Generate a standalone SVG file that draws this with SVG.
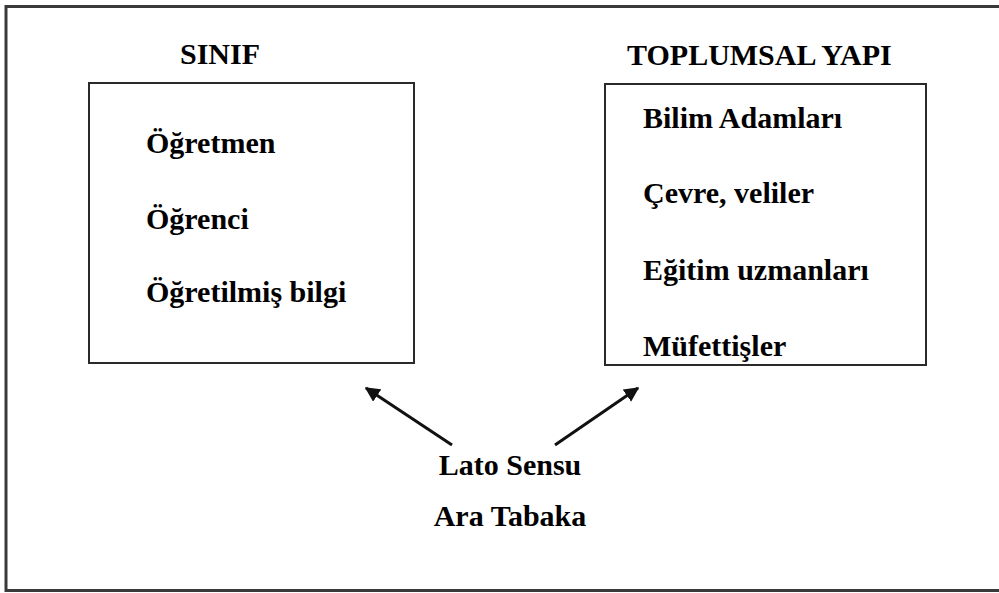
<svg xmlns="http://www.w3.org/2000/svg" width="999" height="593" viewBox="0 0 999 593">
<style>
  text { font-family: 'Liberation Serif', Tinos, 'Times New Roman', Times, 'DejaVu Serif', serif; font-weight: 700; font-size: 30px; fill: #000; }
  .box { fill: #fff; stroke: #2a2a2a; stroke-width: 2; }
  .frame { fill: #fff; stroke: #3a3a3a; stroke-width: 3; }
  .conn { stroke: #111; stroke-width: 3; fill: none; }
</style>
<defs>
  <marker id="ah" viewBox="0 0 10 10" refX="9" refY="5" markerWidth="5" markerHeight="5" markerUnits="strokeWidth" orient="auto">
    <path d="M0,0 L10,5 L0,10 z" fill="#111"/>
  </marker>
</defs>
<rect class="frame" x="6" y="6.5" width="1000" height="584"/>
<g id="sinif" font-family="'Liberation Serif', Tinos, 'Times New Roman', serif">
  <text x="180" y="64">SINIF</text>
  <rect class="box" x="89" y="83" width="325" height="280"/>
  <text x="146" y="153">Öğretmen</text>
  <text x="146" y="229">Öğrenci</text>
  <text x="146" y="302">Öğretilmiş bilgi</text>
</g>
<g id="toplumsal-yapi" font-family="'Liberation Serif', Tinos, 'Times New Roman', serif">
  <text x="627" y="65">TOPLUMSAL YAPI</text>
  <rect class="box" x="605" y="84" width="321" height="281"/>
  <text x="643" y="128">Bilim Adamları</text>
  <text x="643" y="203">Çevre, veliler</text>
  <text x="643" y="280">Eğitim uzmanları</text>
  <text x="643" y="356">Müfettişler</text>
</g>
<g id="ara-tabaka" font-family="'Liberation Serif', Tinos, 'Times New Roman', serif">
  <text x="510" y="475" text-anchor="middle">Lato Sensu</text>
  <text x="510" y="526" text-anchor="middle">Ara Tabaka</text>
</g>
<g id="connectors">
  <line class="conn" x1="452" y1="445" x2="366" y2="388" marker-end="url(#ah)"/>
  <line class="conn" x1="555" y1="445" x2="638" y2="388" marker-end="url(#ah)"/>
</g>
</svg>
